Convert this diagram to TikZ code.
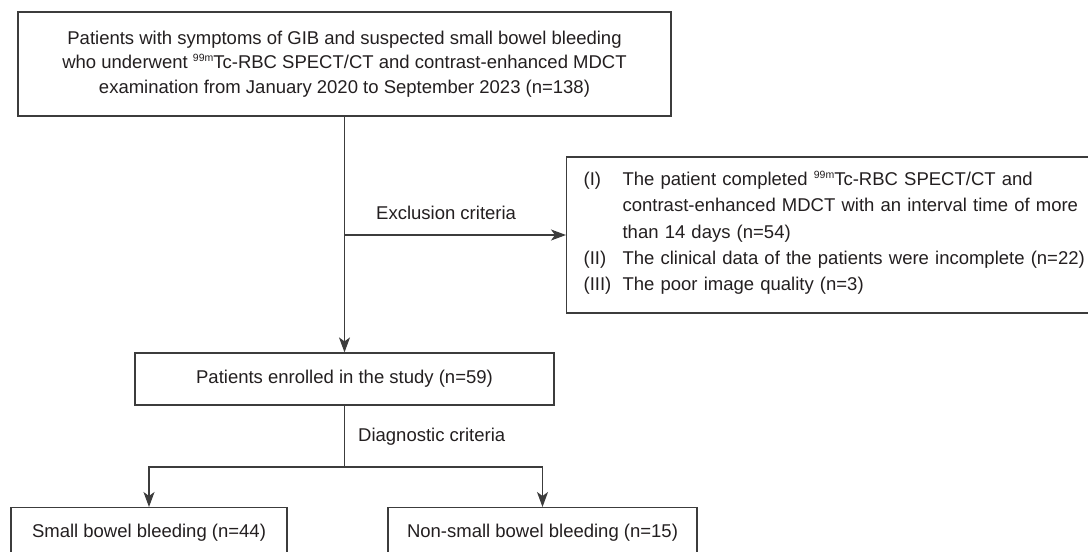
\documentclass[tikz,border=0pt]{standalone}
\usepackage{fontspec}
\setmainfont{Liberation Sans}
\usetikzlibrary{arrows.meta}
\definecolor{ink}{HTML}{231F20}
\definecolor{edge}{HTML}{3C3C3C}
\newcommand\nnm{\raisebox{0.75ex}{\fontsize{10.5}{10.5}\selectfont 99m}}
\tikzset{
  box/.style={draw=edge, line width=1.2pt, rectangle, inner sep=0pt, text=ink, align=center,
    font=\fontsize{18.5}{24.5}\selectfont},
  conn/.style={draw=edge, line width=1.2pt},
  arr/.style={conn, -{Stealth[length=15pt,width=11pt,inset=4pt]}},
  lbl/.style={text=ink, font=\fontsize{18.5}{24}\selectfont, inner sep=0pt, anchor=west},
  bottombox/.style={box, anchor=north, text height=30pt, text depth=20pt}
}
\begin{document}
\begin{tikzpicture}[x=1pt,y=-1pt]
\clip (0,0) rectangle (1088,552);
\fill[white] (0,0) rectangle (1088,552);
% boxes
\node[box, minimum width=653pt, minimum height=104pt] (top) at (344.5,64)
  {Patients with symptoms of GIB and suspected small bowel bleeding\\
   who underwent \nnm Tc-RBC SPECT/CT and contrast-enhanced MDCT\\
   examination from January 2020 to September 2023 (n=138)};
\node[box, minimum width=529pt, minimum height=156pt, anchor=west, align=left,
  text width=505pt, inner xsep=17pt, font=\fontsize{18.5}{25.5}\selectfont] (excl) at (566,235)
  {\renewcommand\arraystretch{1.03}%
   \begin{tabular}{@{}p{39pt}@{}l@{}}
   (I) & The patient completed \nnm Tc-RBC SPECT/CT and\\
       & contrast-enhanced MDCT with an interval time of more\\
       & than 14 days (n=54)\\
   (II) & The clinical data of the patients were incomplete (n=22)\\
   (III) & The poor image quality (n=3)
   \end{tabular}\vspace*{4pt}};
\node[box, minimum width=419pt, minimum height=52pt] (enr) at (344.5,379)
  {Patients enrolled in the study (n=59)};
\node[bottombox, minimum width=276pt] (small) at (149,507)
  {Small bowel bleeding (n=44)};
\node[bottombox, minimum width=309pt] (non) at (542.5,507)
  {Non-small bowel bleeding (n=15)};
% connectors
\coordinate (ex) at (344.5,235);
\coordinate (br) at (344.5,467);
\draw[arr] (top.south) -- (enr.north);
\draw[arr] (ex) -- (excl.west |- ex);
\draw[conn] (enr.south) -- (br);
\draw[arr] (br) -| (small.north);
\draw[arr] (br) -| (non.north);
% labels
\node[lbl] (exl) at (376,213) {Exclusion criteria};
\node[lbl] (dgl) at (358,437) {Diagnostic criteria};
\end{tikzpicture}
\end{document}
